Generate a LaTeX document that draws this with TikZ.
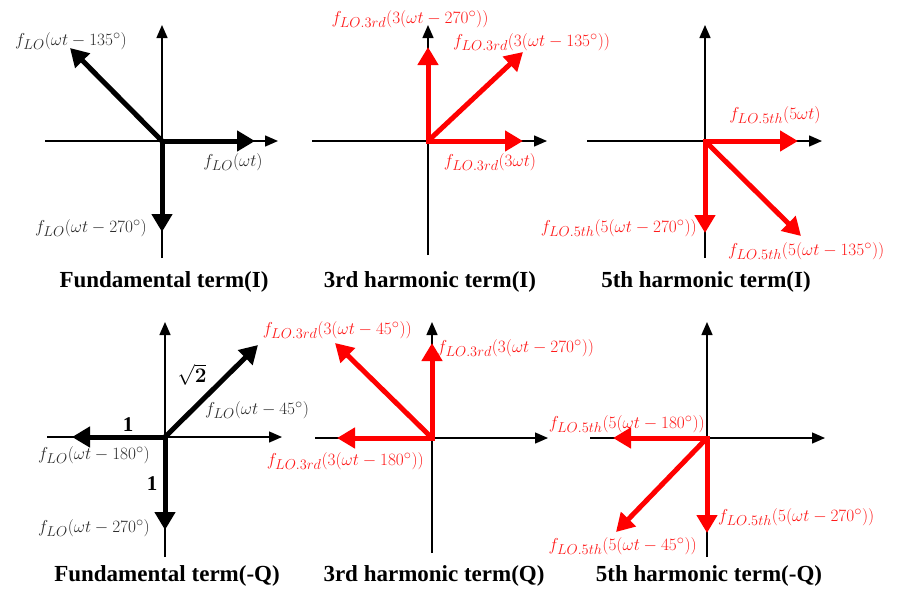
\documentclass[tikz,border=0pt]{standalone}
\usepackage[no-math]{fontspec}
\setmainfont{Liberation Serif}
\usetikzlibrary{arrows.meta}
\DeclareMathSizes{19}{19}{14.5}{11}
\definecolor{lblgray}{RGB}{45,45,45}
\definecolor{lblred}{RGB}{255,25,25}
\definecolor{vecred}{RGB}{255,0,0}
\tikzset{
 axis/.style={line width=1.4pt,-{Triangle[length=13pt,width=11pt]}},
 vecb/.style={line width=5pt,-{Triangle[length=18pt,width=20pt]},draw=black},
 vecr/.style={vecb,draw=vecred},
 ortho/.style={line cap=rect},
 lbl/.style={font=\fontsize{19}{21}\selectfont,text=lblgray,inner sep=0pt},
 lblr/.style={lbl,text=lblred},
 ttl/.style={font=\fontsize{23}{26}\selectfont\bfseries,inner sep=0pt},
 num/.style={font=\fontsize{21}{23}\selectfont\bfseries,inner sep=0pt},
}
\begin{document}
\begin{tikzpicture}[x=1pt,y=-1pt]
\useasboundingbox (0,0) rectangle (897,592);
% ---------- Panel 1: Fundamental term(I)
\coordinate (o1) at (162,141);
\coordinate (h1l) at (45,141); \coordinate (h1r) at (278,141);
\coordinate (v1b) at (162,258); \coordinate (v1t) at (162,25);
\coordinate (a1r) at (255,141); \coordinate (a1d) at (162,232); \coordinate (a1g) at (70,48);
\draw[axis] (h1l) -- (h1r);
\draw[axis] (v1b) -- (v1t);
\draw[vecb,ortho] (o1) -- (a1r);
\draw[vecb,ortho] (o1) -- (a1d);
\draw[vecb] (o1) -- (a1g);
\node[lbl] (l1a) at (71,41) {$f_{LO}(\omega t-135^\circ)$};
\node[lbl] (l1b) at (233,162) {$f_{LO}(\omega t)$};
\node[lbl] (l1c) at (91,228) {$f_{LO}(\omega t-270^\circ)$};
\node[ttl] (t1) at (164,282) {Fundamental term(I)};
% ---------- Panel 2: 3rd harmonic term(I)
\coordinate (o2) at (428,141);
\coordinate (h2l) at (312,141); \coordinate (h2r) at (547,141);
\coordinate (v2b) at (428,255); \coordinate (v2t) at (428,25);
\coordinate (a2u) at (428,47); \coordinate (a2r) at (523,141); \coordinate (a2g) at (523,52);
\draw[axis] (h2l) -- (h2r);
\draw[axis] (v2b) -- (v2t);
\draw[vecr,ortho] (o2) -- (a2u);
\draw[vecr,ortho] (o2) -- (a2r);
\draw[vecr] (o2) -- (a2g);
\node[lblr] (l2a) at (410,19) {$f_{LO.3rd}(3(\omega t-270^\circ))$};
\node[lblr,anchor=west] (l2b) at (453,42) {$f_{LO.3rd}(3(\omega t-135^\circ))$};
\node[lblr] (l2c) at (490,162) {$f_{LO.3rd}(3\omega t)$};
\node[ttl] (t2) at (430,282) {3rd harmonic term(I)};
% ---------- Panel 3: 5th harmonic term(I)
\coordinate (o3) at (705,141);
\coordinate (h3l) at (587,141); \coordinate (h3r) at (822,141);
\coordinate (v3b) at (705,258); \coordinate (v3t) at (705,25);
\coordinate (a3r) at (798,141); \coordinate (a3d) at (705,233); \coordinate (a3g) at (801,236);
\draw[axis] (h3l) -- (h3r);
\draw[axis] (v3b) -- (v3t);
\draw[vecr,ortho] (o3) -- (a3r);
\draw[vecr,ortho] (o3) -- (a3d);
\draw[vecr] (o3) -- (a3g);
\node[lblr] (l3a) at (775,115) {$f_{LO.5th}(5\omega t)$};
\node[lblr,anchor=east] (l3b) at (697,228) {$f_{LO.5th}(5(\omega t-270^\circ))$};
\node[lblr,anchor=west] (l3c) at (728,251) {$f_{LO.5th}(5(\omega t-135^\circ))$};
\node[ttl] (t3) at (706,282) {5th harmonic term(I)};
% ---------- Panel 4: Fundamental term(-Q)
\coordinate (o4) at (165,437);
\coordinate (h4l) at (47,437); \coordinate (h4r) at (282,437);
\coordinate (v4b) at (165,557); \coordinate (v4t) at (165,322);
\coordinate (a4l) at (72,437); \coordinate (a4d) at (165,530); \coordinate (a4g) at (258,345);
\draw[axis] (h4l) -- (h4r);
\draw[axis] (v4b) -- (v4t);
\draw[vecb,ortho] (o4) -- (a4l);
\draw[vecb,ortho] (o4) -- (a4d);
\draw[vecb] (o4) -- (a4g);
\node[num] (n4a) at (192,375) {$\sqrt{\mathbf{2}}$};
\node[lbl,anchor=west] (l4a) at (205,410) {$f_{LO}(\omega t-45^\circ)$};
\node[num] (n4b) at (128,425) {1};
\node[lbl] (l4b) at (94,455) {$f_{LO}(\omega t-180^\circ)$};
\node[num] (n4c) at (152,484) {1};
\node[lbl] (l4c) at (94,528) {$f_{LO}(\omega t-270^\circ)$};
\node[ttl] (t4) at (167,576) {Fundamental term(-Q)};
% ---------- Panel 5: 3rd harmonic term(Q)
\coordinate (o5) at (432,438);
\coordinate (h5l) at (315,438); \coordinate (h5r) at (548,438);
\coordinate (v5b) at (432,553); \coordinate (v5t) at (432,322);
\coordinate (a5u) at (432,343); \coordinate (a5l) at (337,438); \coordinate (a5g) at (335,343);
\draw[axis] (h5l) -- (h5r);
\draw[axis] (v5b) -- (v5t);
\draw[vecr,ortho] (o5) -- (a5u);
\draw[vecr,ortho] (o5) -- (a5l);
\draw[vecr] (o5) -- (a5g);
\node[lblr,anchor=east] (l5a) at (412,330) {$f_{LO.3rd}(3(\omega t-45^\circ))$};
\node[lblr,anchor=west] (l5b) at (437,348) {$f_{LO.3rd}(3(\omega t-270^\circ))$};
\node[lblr,anchor=east] (l5c) at (424,461) {$f_{LO.3rd}(3(\omega t-180^\circ))$};
\node[ttl] (t5) at (434,576) {3rd harmonic term(Q)};
% ---------- Panel 6: 5th harmonic term(-Q)
\coordinate (o6) at (707,438);
\coordinate (h6l) at (590,438); \coordinate (h6r) at (825,438);
\coordinate (v6b) at (707,557); \coordinate (v6t) at (707,322);
\coordinate (a6l) at (613,438); \coordinate (a6d) at (707,533); \coordinate (a6g) at (616,532);
\draw[axis] (h6l) -- (h6r);
\draw[axis] (v6b) -- (v6t);
\draw[vecr,ortho] (o6) -- (a6l);
\draw[vecr,ortho] (o6) -- (a6d);
\draw[vecr] (o6) -- (a6g);
\node[lblr,anchor=east] (l6a) at (705,424) {$f_{LO.5th}(5(\omega t-180^\circ))$};
\node[lblr,anchor=west] (l6b) at (718,517) {$f_{LO.5th}(5(\omega t-270^\circ))$};
\node[lblr,anchor=east] (l6c) at (697,546) {$f_{LO.5th}(5(\omega t-45^\circ))$};
\node[ttl] (t6) at (709,576) {5th harmonic term(-Q)};
\end{tikzpicture}
\end{document}
